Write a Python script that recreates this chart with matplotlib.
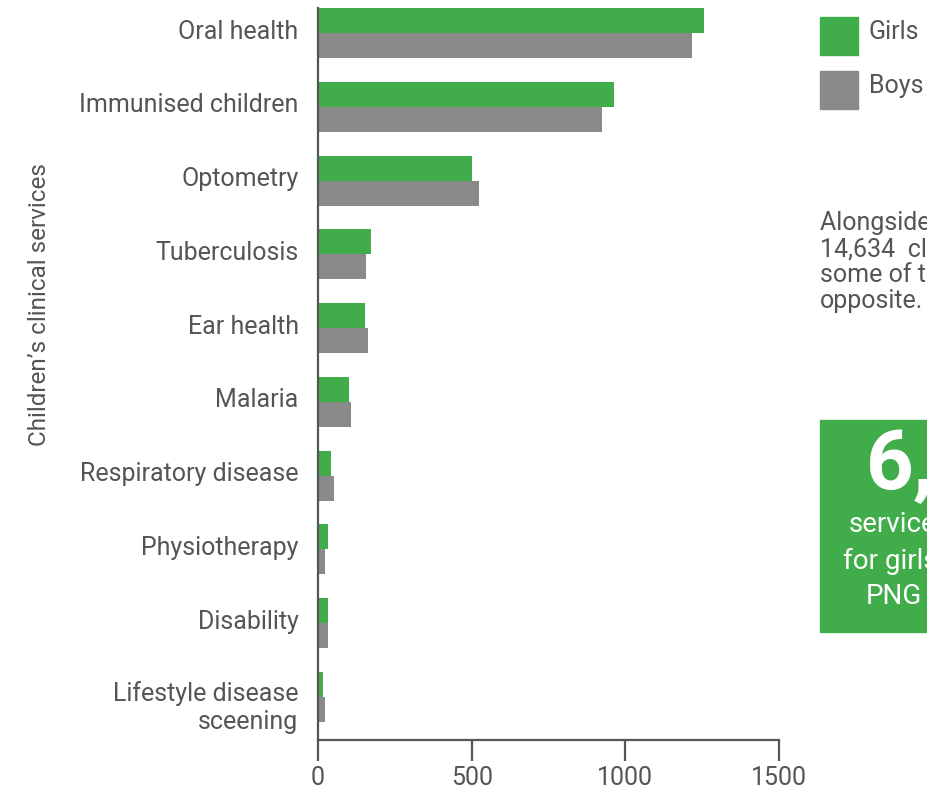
import matplotlib.pyplot as plt
from matplotlib.patches import Rectangle
from matplotlib.transforms import ScaledTranslation

services = [
    "Oral health",
    "Immunised children",
    "Optometry",
    "Tuberculosis",
    "Ear health",
    "Malaria",
    "Respiratory disease",
    "Physiotherapy",
    "Disability",
    "Lifestyle disease\nsceening",
]
girls = [1255, 963, 501, 172, 153, 101, 41, 31, 31, 17]
boys = [1216, 924, 524, 156, 163, 107, 51, 24, 31, 24]
x_ticks = [0, 500, 1000, 1500]

GREEN = "#41ad4a"
GREY = "#8a8a8a"
TEXT = "#555555"
W, H = 928, 791
FS = 18

plt.rcParams["font.family"] = ["Roboto", "DejaVu Sans"]

fig = plt.figure(figsize=(W / 100, H / 100), dpi=100)
ax = fig.add_axes([318 / W, 1 - 740 / H, (779 - 318) / W, (740 - 8) / H])

bar_h = 0.339
pos = list(range(len(services)))
ax.barh([p - bar_h / 2 for p in pos], girls, height=bar_h, color=GREEN)
ax.barh([p + bar_h / 2 for p in pos], boys, height=bar_h, color=GREY)

ax.set_xlim(0, 1500)
ax.set_ylim(9.583, -bar_h)
ax.set_xticks(x_ticks)
ax.set_xticklabels([str(t) for t in x_ticks])
ax.set_yticks(pos)
ax.set_yticklabels(services, linespacing=1.2)

for side in ("top", "right"):
    ax.spines[side].set_visible(False)
for side in ("left", "bottom"):
    ax.spines[side].set_color(TEXT)
    ax.spines[side].set_linewidth(1.6)

ax.tick_params(axis="x", length=15, width=1.6, color=TEXT, pad=4,
               labelsize=FS, labelcolor=TEXT)
ax.tick_params(axis="y", length=0, pad=14, labelsize=FS, labelcolor=TEXT)

# one-line category names sit a little above the middle of each bar pair,
# the two-line one a little below
for lbl in ax.get_yticklabels():
    dy = -6 if "\n" in lbl.get_text() else 4
    lbl.set_transform(lbl.get_transform()
                      + ScaledTranslation(0, dy / 100, fig.dpi_scale_trans))

fig.text(40 / W, 1 - 305 / H, "Children\u2019s clinical services", rotation=90,
         fontsize=FS - 0.5, color=TEXT, ha="center", va="center")

# legend on the right
for y0, col, lab in [(17, GREEN, "Girls"), (71, GREY, "Boys")]:
    fig.patches.append(Rectangle((820 / W, 1 - (y0 + 38) / H), 38 / W, 38 / H,
                                 transform=fig.transFigure, color=col))
    fig.text(869 / W, 1 - (y0 + 15) / H, lab, fontsize=FS, color=TEXT,
             ha="left", va="center")

# side note
note = ["Alongside the", "14,634  clinical", "some of these", "opposite."]
for i, line in enumerate(note):
    fig.text(820 / W, 1 - (223 + 26 * i) / H, line, fontsize=FS, color=TEXT,
             ha="left", va="center")

# highlight box
fig.patches.append(Rectangle((820 / W, 1 - 632 / H), 200 / W, 212 / H,
                             transform=fig.transFigure, color=GREEN))
fig.text(866 / W, 1 - 466 / H, "6,", fontsize=60, fontweight="bold",
         color="white", ha="left", va="center")
for x0, y0, line in [(849, 524, "services"), (843, 561, "for girls"),
                     (866, 597, "PNG")]:
    fig.text(x0 / W, 1 - y0 / H, line, fontsize=FS + 2, color="white",
             ha="left", va="center")

fig.savefig("out.png", dpi=100)
